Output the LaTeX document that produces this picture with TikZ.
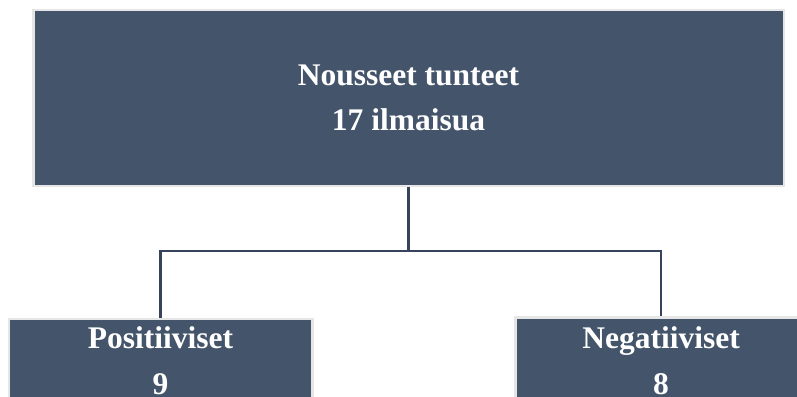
\documentclass[tikz,border=0pt]{standalone}
\usepackage{fontspec}
\setmainfont{Liberation Serif}
\definecolor{boxfill}{HTML}{44546A}
\definecolor{boxedge}{HTML}{E6E6E6}
\definecolor{linecol}{HTML}{36435A}
\begin{document}
\begin{tikzpicture}[x=1pt,y=-1pt,
  boxnode/.style={rectangle, fill=boxfill, draw=boxedge, line width=2.5pt,
    text=white, font=\fontsize{31.5}{46}\selectfont\bfseries, align=center,
    inner sep=0pt},
  conn/.style={draw=linecol, line width=2.6pt}]
\useasboundingbox (0,0) rectangle (797,396);
\node[boxnode, minimum width=750.5pt, minimum height=175.5pt] (top) at (408.5,98)
  {\raisebox{-2pt}{Nousseet tunteet}\\[-1pt]\raisebox{-2pt}{17 ilmaisua}};
\node[boxnode, minimum width=303.5pt, minimum height=84pt] (left) at (160.5,361)
  {Positiiviset\\9};
\node[boxnode, minimum width=291pt, minimum height=86pt] (right) at (661,360.5)
  {Negatiiviset\\8};
\draw[conn] (top.south) -- ++(0,64) coordinate (mid) -| (left.north);
\draw[conn] (mid) -| (right.north);
\end{tikzpicture}
\end{document}
